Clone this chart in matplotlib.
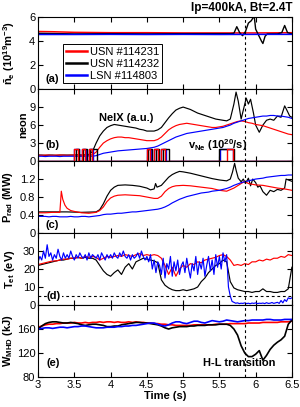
import numpy as np
import matplotlib
matplotlib.use("Agg")
import matplotlib.pyplot as plt

plt.rcParams.update({
    "font.family": ["Liberation Sans", "DejaVu Sans"], "font.size": 8,
    "mathtext.fontset": "custom", "mathtext.rm": "Liberation Sans",
    "mathtext.bf": "Liberation Sans:bold", "mathtext.it": "Liberation Sans:italic",
    "mathtext.default": "bf",
    "xtick.direction": "in", "ytick.direction": "in",
    "xtick.top": True, "ytick.right": True,
    "xtick.major.size": 3.5, "ytick.major.size": 3.5,
    "xtick.major.pad": 2, "ytick.major.pad": 2,
    "axes.linewidth": 0.8,
})

RED, BLK, BLUE = "#ff0000", "#000000", "#0000ff"
T_HL = 5.85  # H-L transition time

# common 0.05 s time grid 3.0 .. 6.5
T05 = np.round(np.arange(3.0, 6.5001, 0.05), 2)
T025 = np.round(np.arange(3.0, 6.5001, 0.025), 3)

# ---- (a) line-averaged density ----
ne_red_t = [3.0, 3.2, 3.5, 4.0, 4.5, 5.0, 5.5, 6.0, 6.5]
ne_red = [4.8, 4.78, 4.73, 4.7, 4.7, 4.68, 4.68, 4.68, 4.7]
ne_blk_t = [3.0, 3.5, 4.0, 4.5, 5.0, 5.65, 5.7, 5.74, 5.78, 5.82, 5.86, 5.9, 5.94, 5.98,
            6.0, 6.04, 6.08, 6.1, 6.13, 6.16, 6.3, 6.36, 6.4, 6.44, 6.5]
ne_blk = [4.65, 4.6, 4.62, 4.6, 4.62, 4.62, 4.65, 5.2, 4.7, 4.45, 4.8, 5.5, 5.7, 6.1,
          5.0, 4.5, 4.0, 3.8, 4.4, 4.6, 4.6, 4.7, 5.3, 4.7, 4.6]
ne_blue_t = [3.0, 3.5, 4.0, 4.5, 5.0, 5.5, 6.0, 6.5]
ne_blue = [4.55, 4.55, 4.56, 4.55, 4.56, 4.55, 4.56, 4.56]

# ---- (b) NeIX line intensity (a.u.) ----
neix_red = [1.0, 0.95, 1.0, 1.0, 0.95, 1.0, 1.0, 1.0, 0.95, 1.0, 1.0, 1.0, 0.95, 1.0, 1.0, 1.05,
            1.5, 2.3, 3.0, 3.4, 3.7, 3.9, 4.0, 4.0, 3.9, 3.9, 3.8, 3.7, 3.6, 3.5, 3.4, 3.4,
            3.4, 3.6, 4.0, 4.6, 5.2, 5.6, 5.9, 6.1, 6.2, 6.3, 6.2, 6.1, 6.0, 5.9, 5.8, 5.7,
            5.6, 5.6, 5.7, 5.8, 6.0, 6.2, 6.4, 6.6, 6.7, 6.6, 6.4, 6.3, 6.1, 6.0, 5.9, 5.7,
            5.5, 5.3, 5.1, 4.9, 4.7, 4.5, 4.4]
neix_blk_t = list(T05[:53]) + [5.65, 5.7, 5.73, 5.76, 5.8, 5.83, 5.87, 5.9, 5.93, 5.97, 6.0,
                               6.05, 6.1, 6.15, 6.2, 6.25, 6.3, 6.35, 6.4, 6.43, 6.47, 6.5]
neix_blk = [1.0, 1.0, 0.95, 1.0, 1.0, 0.95, 1.0, 1.0, 1.0, 1.0, 1.0, 1.05, 1.0, 1.05, 1.1,
            1.6, 3.0, 4.2, 5.0, 5.6, 5.9, 6.1, 6.0, 5.9, 5.8, 5.7, 5.6, 5.5, 5.3, 5.2, 5.0,
            5.0, 5.0, 5.2, 5.6, 6.4, 7.2, 7.9, 8.5, 8.8, 9.0, 8.8, 8.6, 8.3, 8.0, 7.8, 7.6,
            7.4, 7.2, 7.0, 6.9, 6.8, 6.7,
            7.0, 9.5, 11.5, 10.0, 7.0, 8.5, 10.5, 9.5, 10.3, 8.0, 6.0,
            4.8, 6.0, 6.8, 7.0, 6.8, 7.5, 7.3, 9.2, 8.5, 7.5, 7.3]
neix_blue = [0.8, 0.8, 0.75, 0.8, 0.8, 0.8, 0.75, 0.8, 0.8, 0.8, 0.8, 0.8, 0.8, 0.8, 0.85, 0.8,
             0.9, 1.1, 1.3, 1.4, 1.5, 1.6, 1.7, 1.75, 1.8, 1.85, 1.9, 1.95, 2.0, 2.05, 2.1,
             2.2, 2.3, 2.5, 2.8, 3.1, 3.4, 3.7, 4.0, 4.2, 4.4, 4.6, 4.7, 4.8, 4.9, 5.0, 5.1,
             5.2, 5.3, 5.4, 5.5, 5.6, 5.8, 6.0, 6.3, 6.5, 6.7, 6.9, 7.1, 7.2, 7.3, 7.4, 7.5,
             7.5, 7.6, 7.6, 7.5, 7.5, 7.4, 7.3, 7.1]

# neon puffs (on, off) in s, amplitude 2 (10^20/s)
puff_amp = 2.0
puff_blk = [(3.52, 3.57), (3.62, 3.67), (3.72, 3.81), (4.52, 4.57), (4.62, 4.67), (4.72, 4.81), (5.5, 5.7)]
puff_red = [(3.5, 3.55), (3.6, 3.65), (3.7, 3.75), (4.5, 4.55), (4.6, 4.65), (4.7, 4.75), (5.6, 5.69)]
puff_blue = [(3.5, 3.56), (3.6, 3.66), (3.7, 3.76), (4.5, 4.56), (4.6, 4.66), (4.7, 4.76), (5.51, 5.69)]

# ---- (c) radiated power (MW) ----
prad_red_t = [3.0, 3.1, 3.2, 3.3, 3.32, 3.34, 3.37, 3.40, 3.45, 3.5, 3.6, 3.7, 3.8, 3.85, 3.9,
              3.95, 4.0, 4.05, 4.1, 4.2, 4.3, 4.4, 4.5, 4.6, 4.65, 4.7, 4.75, 4.8, 4.85, 4.9,
              5.0, 5.1, 5.2, 5.3, 5.4, 5.5, 5.6, 5.7, 5.8, 5.85, 5.9, 6.0, 6.1, 6.2, 6.3, 6.4, 6.5]
prad_red = [0.45, 0.45, 0.46, 0.46, 0.93, 0.75, 0.62, 0.55, 0.5, 0.48, 0.45, 0.44, 0.46, 0.5,
            0.58, 0.7, 0.78, 0.82, 0.84, 0.85, 0.84, 0.83, 0.8, 0.77, 0.77, 0.82, 0.92, 0.99,
            1.03, 1.05, 1.06, 1.05, 1.03, 1.01, 0.99, 0.95, 0.93, 1.0, 1.1, 1.15, 1.1, 1.07,
            1.06, 1.03, 1.0, 0.98, 0.95]
prad_blk_t = [3.0, 3.2, 3.4, 3.6, 3.8, 3.85, 3.9, 3.95, 4.0, 4.05, 4.1, 4.2, 4.3, 4.4, 4.5,
              4.55, 4.6, 4.62, 4.64, 4.7, 4.75, 4.8, 4.85, 4.9, 4.95, 5.0, 5.1, 5.2, 5.3, 5.4,
              5.5, 5.6, 5.65, 5.68, 5.71, 5.73, 5.76, 5.8, 5.83, 5.86, 5.9, 5.93, 5.96, 6.0,
              6.03, 6.06, 6.1, 6.15, 6.2, 6.25, 6.3, 6.35, 6.4, 6.42, 6.45, 6.5]
prad_blk = [0.47, 0.47, 0.47, 0.46, 0.47, 0.52, 0.65, 0.82, 0.95, 1.02, 1.06, 1.07, 1.06, 1.04,
            1.0, 0.96, 0.98, 1.1, 1.02, 1.06, 1.15, 1.24, 1.3, 1.34, 1.37, 1.36, 1.33, 1.29,
            1.25, 1.21, 1.18, 1.16, 1.2, 1.35, 1.55, 1.4, 1.22, 1.14, 1.2, 1.1, 1.22, 1.05,
            1.2, 1.12, 1.02, 1.05, 0.92, 0.84, 0.95, 0.92, 0.97, 0.95, 1.0, 1.2, 1.18, 1.15]
prad_blue = [0.37, 0.37, 0.37, 0.36, 0.37, 0.37, 0.36, 0.36, 0.36, 0.37, 0.36, 0.36, 0.37, 0.37,
             0.36, 0.37, 0.38, 0.39, 0.41, 0.42, 0.42, 0.43, 0.44, 0.44, 0.45, 0.46, 0.47, 0.47,
             0.48, 0.49, 0.5, 0.51, 0.52, 0.53, 0.55, 0.58, 0.62, 0.67, 0.71, 0.75, 0.78, 0.81,
             0.83, 0.85, 0.87, 0.89, 0.9, 0.91, 0.93, 0.94, 0.95, 0.97, 0.99, 1.02, 1.06, 1.09,
             1.12, 1.14, 1.16, 1.18, 1.2, 1.21, 1.22, 1.24, 1.25, 1.26, 1.27, 1.28, 1.28, 1.29, 1.29]

# ---- (d) target electron temperature (eV) ----
te_red = [22.5, 23, 23.5, 24, 24.5, 24.5, 25, 25.5, 25.5, 26, 26, 26.5, 26, 27, 26.5, 27, 26.5,
          25, 26, 27, 26.5, 27, 27.5, 27, 28, 27.5, 27, 28, 28.5, 27.5, 28, 27.5, 28, 27.5, 26,
          22, 17, 21, 16, 20, 22, 21, 23, 22.5, 24, 23.5, 25, 25.5, 26, 26.5, 27.5, 28, 27, 25,
          22, 22.5, 22, 23, 22.5, 24, 24, 25, 24.5, 25.5, 25, 26, 26, 27, 26.5, 28, 27.5]
te_blk = [22, 22.5, 23, 23.5, 24, 24.5, 25, 25, 25.5, 26, 26, 26.5, 26, 26.5, 26, 26, 25, 22, 19,
          17, 16, 18, 19.5, 17, 21, 23, 20, 24, 25, 26, 25.5, 25, 24.5, 23.5, 14, 11, 9.5, 8.5,
          8, 8, 8.5, 8, 8.5, 9, 10, 13, 15, 18, 20, 22, 23, 25, 24, 13, 9.5, 8.5, 8, 7.5, 7.5,
          7, 7.5, 7.5, 9, 7.5, 7.5, 7, 7, 7.5, 7.5, 9, 21]
te_blue = [24, 27, 25, 30, 26, 33.5, 27, 29, 25, 28, 26, 31, 27, 25, 29, 26, 28, 26, 30, 27,
           25, 28, 26, 29, 27, 26, 28, 25, 29, 26, 28, 27, 26, 28, 25, 29, 27, 25, 28, 26,
           28, 26, 29, 27, 26, 29, 27, 30, 27, 26, 28, 25, 28, 26, 27, 29, 26, 30, 27, 25,
           27, 24, 28, 20, 25, 18, 24, 22, 17, 26, 15, 23, 20, 27, 16, 24, 19, 25, 17, 22,
           24, 18, 26, 20, 15, 23, 19, 27, 17, 24, 20, 26, 16, 22, 27, 19, 25, 17, 28, 21,
           27, 20, 29, 24, 28, 10, 5, 2, 1.5, 1, 1.2, 0.8, 1, 0.9, 1.2, 0.8, 1, 0.7, 1.1, 0.9,
           1.2, 0.8, 1, 0.9, 1.1, 0.8, 1.3, 0.9, 1, 1.4, 0.9, 1.2, 1.5, 0.9, 2.5, 1.2, 3, 2, 4,
           3.5, 4]

# ---- (e) stored energy (kJ) ----
w_red = [163, 165, 167, 168, 168, 169, 169, 170, 170, 170, 171, 170, 170, 171, 170, 171, 171,
         172, 171, 172, 172, 171, 172, 171, 171, 172, 171, 172, 171, 171, 170, 170, 169, 169,
         168, 168, 167, 167, 166, 166, 166, 166, 166, 167, 167, 167, 167, 167, 167, 168, 168,
         168, 168, 169, 169, 169, 169, 169, 170, 170, 170, 170, 171, 171, 171, 171, 171, 172,
         172, 172, 173]
w_blk = [160, 165, 169, 171, 172, 172, 171, 170, 170, 171, 170, 169, 167, 166, 167, 168, 168,
         167, 166, 164, 164, 165, 165, 167, 168, 169, 170, 171, 171, 170, 170, 169, 168, 167,
         165, 162, 160, 162, 163, 164, 164, 164, 165, 165, 166, 166, 166, 167, 167, 167, 168,
         168, 168, 166, 160, 150, 132, 120, 114, 114, 118, 124, 108, 116, 126, 133, 138, 142,
         148, 168, 175]
w_blue = [160, 161, 162, 162, 161, 162, 163, 163, 162, 163, 164, 164, 165, 165, 164, 163, 162,
          162, 162, 163, 163, 163, 164, 164, 165, 165, 166, 166, 167, 168, 169, 170, 170, 168,
          166, 165, 167, 170, 172, 172, 170, 169, 171, 173, 173, 171, 170, 172, 174, 173, 172,
          173, 175, 174, 173, 172, 173, 174, 174, 175, 175, 175, 175, 176, 176, 175, 175, 175,
          176, 176, 176]


def puff_trace(puffs):
    x, y = [3.0], [0.0]
    for on, off in puffs:
        x += [on, on, off, off]
        y += [0, puff_amp, puff_amp, 0]
    x.append(6.5); y.append(0.0)
    return x, y


fig = plt.figure(figsize=(3.0, 4.07), dpi=100)
gs = fig.add_gridspec(5, 1, left=0.127, right=0.973, bottom=0.0737, top=0.958, hspace=0)
axs = [fig.add_subplot(gs[i]) for i in range(5)]

lw = 0.85
ax = axs[0]
ax.plot(ne_red_t, ne_red, color=RED, lw=1.1, label="USN #114231")
ax.plot(ne_blk_t, ne_blk, color=BLK, lw=1.0, label="USN #114232")
ax.plot(ne_blue_t, ne_blue, color=BLUE, lw=1.1, label="LSN #114803")
ax.set_ylim(0, 6); ax.set_yticks([0, 2, 4, 6])
ax.set_ylabel(r"$\bar{n}_e$ (10$^{19}$m$^{-3}$)")
ax.yaxis.set_label_coords(-0.085, 0.5)
leg = ax.legend(loc="lower left", bbox_to_anchor=(0.1, 0.08), borderaxespad=0, fontsize=8,
                handlelength=1.9, handletextpad=0.2, borderpad=0.25, labelspacing=0.15,
                fancybox=False, framealpha=1, edgecolor="k")
leg.get_frame().set_linewidth(0.7)
for h in leg.get_lines():
    h.set_linewidth(1.8)
ax.text(0.03, 0.145, "(a)", transform=ax.transAxes, fontweight="bold", va="center")

ax = axs[1]
ax.plot(neix_blk_t, neix_blk, color=BLK, lw=lw)
ax.plot(T05, neix_red, color=RED, lw=lw)
ax.plot(T05, neix_blue, color=BLUE, lw=lw)
for puffs, col in ((puff_blue, BLUE), (puff_blk, BLK), (puff_red, RED)):
    px, py = puff_trace(puffs)
    ax.plot(px, py, color=col, lw=1.0)
ax.set_ylim(0, 12); ax.set_yticks([0, 3, 6, 9])
ax.set_ylabel("neon")
ax.yaxis.set_label_coords(-0.04, 0.5)
ax.text(4.21, 7.2, "NeIX (a.u.)", ha="center", va="center", fontweight="bold")
ax.text(5.48, 2.7, r"v$_{Ne}$ (10$^{20}$/s)", ha="center", va="center", fontweight="bold")
ax.text(0.03, 0.22, "(b)", transform=ax.transAxes, fontweight="bold", va="center")

ax = axs[2]
ax.plot(prad_blk_t, prad_blk, color=BLK, lw=lw)
ax.plot(prad_red_t, prad_red, color=RED, lw=lw)
ax.plot(T05, prad_blue, color=BLUE, lw=lw)
ax.set_ylim(0, 1.6); ax.set_yticks([0, 0.4, 0.8, 1.2])
ax.set_yticklabels(["0", "0.4", "0.8", "1.2"])
ax.set_ylabel(r"P$_{rad}$ (MW)")
ax.yaxis.set_label_coords(-0.09, 0.5)
ax.text(0.03, 0.11, "(c)", transform=ax.transAxes, fontweight="bold", va="center")

ax = axs[3]
ax.plot(T05, te_blk, color=BLK, lw=lw)
ax.plot(T05, te_red, color=RED, lw=lw)
ax.plot(T025, te_blue, color=BLUE, lw=lw)
ax.axhline(5, color="k", lw=0.8, ls=(0, (2.5, 2.5)))
ax.set_ylim(0, 40); ax.set_yticks([0, 10, 20, 30])
ax.set_ylabel(r"T$_{et}$ (eV)")
ax.yaxis.set_label_coords(-0.085, 0.5)
ax.text(0.035, 0.125, "(d)", transform=ax.transAxes, fontweight="bold", va="center",
        bbox=dict(fc="white", ec="none", pad=0.3))

ax = axs[4]
ax.plot(T05, w_red, color=RED, lw=1.2)
ax.plot(T05, w_blk, color=BLK, lw=1.2)
ax.plot(T05, w_blue, color=BLUE, lw=1.2)
ax.set_ylim(80, 200); ax.set_yticks([80, 120, 160])
ax.set_ylabel(r"W$_{MHD}$ (kJ)")
ax.yaxis.set_label_coords(-0.09, 0.5)
ax.text(5.77, 103, "H-L transition", ha="center", va="center", fontweight="bold")
ax.text(0.035, 0.19, "(e)", transform=ax.transAxes, fontweight="bold", va="center")
ax.set_xlabel("Time (s)", fontweight="bold", labelpad=1)

for i, ax in enumerate(axs):
    ax.axvline(T_HL, color="k", lw=0.8, ls=(0, (2.5, 2.5)))
    ax.set_xlim(3, 6.5)
    ax.set_xticks([3, 3.5, 4, 4.5, 5, 5.5, 6, 6.5])
    ax.yaxis.label.set_fontweight("bold")
    if i < 4:
        ax.tick_params(labelbottom=False)
axs[4].set_xticklabels(["3", "3.5", "4", "4.5", "5", "5.5", "6", "6.5"])

fig.text(0.975, 0.995, "Ip=400kA, Bt=2.4T", ha="right", va="top", fontweight="bold", fontsize=8.5)

fig.savefig("out.png", dpi=100)
